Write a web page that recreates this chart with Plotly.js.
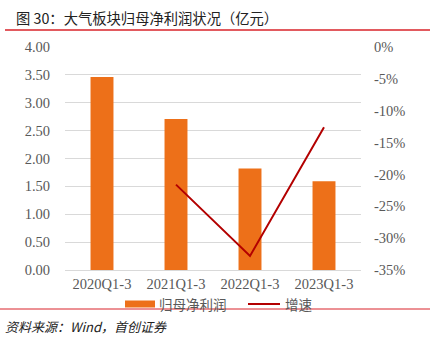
<!DOCTYPE html>
<html><head><meta charset="utf-8">
<script src="https://cdn.plot.ly/plotly-3.0.1.min.js"></script>
<style>html,body{margin:0;padding:0;background:#fff}#c{width:430px;height:338px}</style>
</head><body><div id="c"></div>
<script>
const categories = ['2020Q1-3','2021Q1-3','2022Q1-3','2023Q1-3'];
const profit = [3.46, 2.71, 1.82, 1.59];
const growth = [null, -21.6, -32.8, -12.6];
const leftTicks = [0,0.5,1,1.5,2,2.5,3,3.5,4];
const rightTicks = [0,-5,-10,-15,-20,-25,-30,-35];

const tickFont = {family:'"Liberation Serif", "Times New Roman", serif', size:14.5, color:'#595959'};
const cjk = '"Noto Sans CJK SC", sans-serif';
const data = [
  {type:'bar', x:categories, y:profit, name:'归母净利润', marker:{color:'#ED7019'}, yaxis:'y', showlegend:false},
  {type:'scatter', mode:'lines', x:categories, y:growth, name:'增速', line:{color:'#B30000', width:2}, yaxis:'y2', connectgaps:false, showlegend:false}
];
const W = 296, H = 223; // plot area size
const px = x => (x-65)/W, py = y => (270-y)/H;
const layout = {
  width:430, height:338,
  margin:{l:65, r:69, t:47, b:68},
  paper_bgcolor:'#fff', plot_bgcolor:'#fff',
  bargap:0.69,
  showlegend:false,
  xaxis:{tickfont:tickFont, showgrid:false, showline:true, linecolor:'#d9d9d9', ticks:'', ticklabelstandoff:1},
  yaxis:{range:[0,4], tickvals:leftTicks, ticktext:leftTicks.map(v=>v.toFixed(2)), tickfont:tickFont,
    gridcolor:'#d9d9d9', zeroline:false, ticks:'', ticklabelstandoff:14},
  yaxis2:{range:[-35,0], overlaying:'y', side:'right', tickvals:rightTicks, ticktext:rightTicks.map(v=>v+'%'),
    tickfont:tickFont, showgrid:false, zeroline:false, ticks:'', ticklabelstandoff:12},
  shapes:[
    {type:'line', xref:'paper', yref:'paper', x0:px(5), x1:px(430), y0:py(30), y1:py(30), line:{color:'#D9232A', width:1.5}},
    {type:'line', xref:'paper', yref:'paper', x0:px(0), x1:px(430), y0:py(309), y1:py(309), line:{color:'#D9232A', width:1}},
    {type:'rect', xref:'paper', yref:'paper', x0:px(125), x1:px(155), y0:py(300.5), y1:py(307.5), fillcolor:'#ED7019', line:{width:0}},
    {type:'line', xref:'paper', yref:'paper', x0:px(248), x1:px(280), y0:py(304), y1:py(304), line:{color:'#B30000', width:2}}
  ],
  annotations:[
    {xref:'paper', yref:'paper', x:px(14), y:py(17), xanchor:'left', yanchor:'middle', showarrow:false,
     text:'图 30：大气板块归母净利润状况（亿元）', font:{family:cjk, size:14.3, color:'#222'}},
    {xref:'paper', yref:'paper', x:px(157), y:py(304), xanchor:'left', yanchor:'middle', showarrow:false,
     text:'归母净利润', font:{family:cjk, size:13.5, color:'#595959'}},
    {xref:'paper', yref:'paper', x:px(283), y:py(304), xanchor:'left', yanchor:'middle', showarrow:false,
     text:'增速', font:{family:cjk, size:13.5, color:'#595959'}},
    {xref:'paper', yref:'paper', x:px(3), y:py(326), xanchor:'left', yanchor:'middle', showarrow:false,
     text:'<i>资料来源：Wind，首创证券</i>', font:{family:cjk, size:13, color:'#222'}}
  ]
};
Plotly.newPlot('c', data, layout, {displayModeBar:false, staticPlot:true});
</script></body></html>
